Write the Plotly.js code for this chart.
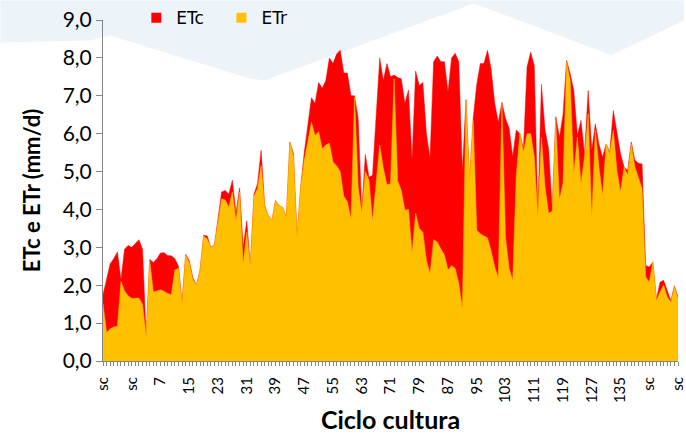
<!DOCTYPE html>
<html>
<head>
<meta charset="utf-8">
<script src="https://cdn.plot.ly/plotly-3.0.1.min.js"></script>
<style>
  html, body { margin: 0; padding: 0; background: #ffffff; }
  #chart { width: 686px; height: 434px; }
</style>
</head>
<body>
<div id="chart"></div>
<script>
// Tick labels shown every 8th point of the crop cycle axis (sc = sem cultura)
const tickLabels = ["sc","sc","7","15","23","31","39","47","55","63","71","79","87","95","103","111","119","127","135","sc","sc"];

// ETc (mm/d), one value per day
const etc = [
  1.75, 2.2, 2.57, 2.7, 2.88, 2.15, 2.95, 3.05, 3.0, 3.1, 3.2, 2.95, 0.65,
  2.68, 2.6, 2.7, 2.85, 2.86, 2.78, 2.78, 2.7, 2.5, 1.55, 2.82, 2.65, 2.2, 2.0, 2.4,
  3.32, 3.3, 3.0, 3.06, 3.7, 4.46, 4.5, 4.4, 4.77, 3.9, 4.57, 3.0, 3.7, 2.52, 4.4, 4.68, 5.56,
  4.1, 3.84, 3.71, 4.24, 4.1, 4.05, 3.8, 5.78, 5.47, 3.27, 4.6,
  5.5, 6.2, 6.95, 6.8, 7.35, 7.2, 7.4, 8.0, 7.85, 8.1, 8.2, 7.6, 7.6, 7.0, 7.0, 6.4, 3.95,
  5.45, 4.85, 4.9, 6.35, 8.0, 7.4, 7.85, 7.5, 7.55, 7.48, 7.45, 6.8, 7.15, 5.3, 7.65, 7.27, 7.35, 6.0,
  5.35, 7.9, 8.05, 7.9, 7.9, 7.1, 8.0, 8.12, 7.9, 5.0, 6.9, 4.77, 6.4, 7.3, 7.85, 7.85, 8.2, 7.7, 6.8, 6.3,
  6.83, 6.4, 6.15, 5.4, 6.1, 6.0, 5.6, 7.76, 8.15, 7.8, 3.9, 7.3, 6.1, 5.6, 4.0, 6.45, 5.9, 6.5,
  7.93, 7.58, 7.14, 5.95, 6.35, 5.47, 7.14, 5.56, 6.26, 5.73, 5.38, 5.73, 5.51, 6.61, 6.0, 5.47, 5.12, 5.03, 5.78, 5.3, 5.22, 5.2,
  2.52, 2.48, 2.61, 1.63, 2.08, 2.13, 1.86, 1.6, 1.98, 1.69
];

// ETr (mm/d), one value per day
const etr = [
  1.52, 0.75, 0.85, 0.9, 0.92, 2.1, 1.85, 1.72, 1.65, 1.65, 1.66, 1.5, 0.63,
  2.65, 1.82, 1.85, 1.88, 1.84, 1.78, 1.75, 2.4, 2.45, 1.52, 2.8, 2.6, 2.15, 2.0, 2.38,
  3.3, 3.22, 3.0, 3.05, 3.68, 4.28, 4.25, 4.06, 4.46, 3.7, 4.46, 2.55, 3.4, 2.5, 4.35, 4.55, 5.16,
  4.08, 3.84, 3.71, 4.24, 4.1, 4.05, 3.8, 5.78, 5.4, 3.27, 4.6,
  5.3, 5.8, 6.3, 5.95, 6.05, 5.6, 5.7, 5.75, 5.25, 5.15, 5.0, 4.35, 4.2, 3.75, 6.95, 4.6, 3.9,
  5.0, 4.77, 3.7, 4.7, 5.7, 5.1, 4.65, 4.68, 7.45, 4.75, 4.5, 3.98, 4.0, 2.85, 3.9, 3.5, 3.4, 2.65,
  2.3, 3.2, 3.14, 2.96, 2.8, 2.4, 2.52, 2.44, 2.05, 1.38, 6.85, 4.75, 6.35, 3.45, 3.36, 3.3, 3.25, 2.9, 2.48, 2.2,
  6.79, 3.27, 2.45, 2.13, 4.9, 6.0, 5.51, 6.0, 6.0, 5.4, 3.8, 5.9, 4.6, 3.9, 3.95, 6.35, 4.25, 4.7,
  7.89, 7.4, 4.94, 5.91, 4.68, 5.4, 6.53, 3.76, 6.09, 5.12, 4.37, 5.73, 5.47, 6.09, 5.03, 4.46, 5.12, 4.9, 5.73, 5.12, 4.85, 4.55,
  2.22, 2.08, 2.61, 1.6, 1.82, 2.0, 1.69, 1.56, 1.95, 1.64
];

const labelStep = 8;
const xIdx = etc.map((_, i) => i);
const tickVals = tickLabels.map((_, k) => k * labelStep);

const RED = '#FF0000';
const GOLD = '#FFC000';

const traces = [
  { x: xIdx, y: etc, name: 'ETc', type: 'scatter', mode: 'lines', fill: 'tozeroy',
    fillcolor: RED, line: { color: RED, width: 0.5 }, showlegend: false, hoverinfo: 'skip' },
  { x: xIdx, y: etr, name: 'ETr', type: 'scatter', mode: 'lines', fill: 'tozeroy',
    fillcolor: GOLD, line: { color: GOLD, width: 0.5 }, showlegend: false, hoverinfo: 'skip' },
  // legend entries (square swatches)
  { x: [null], y: [null], name: 'ETc', type: 'scatter', mode: 'markers',
    marker: { symbol: 'square', size: 10, color: RED }, showlegend: true, legend: 'legend' },
  { x: [null], y: [null], name: 'ETr', type: 'scatter', mode: 'markers',
    marker: { symbol: 'square', size: 10, color: GOLD }, showlegend: true, legend: 'legend2' }
];

// light slide-background band at the top (paper coordinates)
const bgPath = 'M -0.1785 1.0575 L 1.0104 1.0575 L 1.0104 0.9988 L 0.8839 0.8963 L 0.6447 1.0487 ' +
               'L 0.4229 0.9109 L 0.2808 0.8229 L 0.2548 0.8288 L 0.0121 0.9548 L -0.0225 0.9402 L -0.1785 0.9343 Z';

const legendFont = { family: '"DejaVu Sans", sans-serif', size: 17, color: '#000000' };

const layout = {
  width: 686, height: 434,
  margin: { l: 103, r: 8, t: 20, b: 73, pad: 0, autoexpand: false },
  paper_bgcolor: '#ffffff',
  plot_bgcolor: 'rgba(0,0,0,0)',
  separators: ',.',
  font: { family: 'Lato, "Open Sans", sans-serif', color: '#000000', size: 15 },
  showlegend: true,
  legend: {
    orientation: 'h', x: 0.058, xanchor: 'left', y: 1.005, yanchor: 'middle',
    bgcolor: 'rgba(0,0,0,0)', itemwidth: 30, font: legendFont
  },
  legend2: {
    orientation: 'h', x: 0.206, xanchor: 'left', y: 1.005, yanchor: 'middle',
    bgcolor: 'rgba(0,0,0,0)', itemwidth: 30, font: legendFont
  },
  xaxis: {
    range: [0, 160], fixedrange: true,
    tickmode: 'array', tickvals: tickVals, ticktext: tickLabels,
    tickangle: -90, ticks: 'outside', ticklen: 4, tickcolor: '#868686', tickwidth: 1,
    ticklabelstandoff: 5, ticklabeloverflow: 'allow',
    minor: { dtick: 1, ticks: 'outside', ticklen: 4, tickcolor: '#868686', tickwidth: 1, showgrid: false },
    showline: true, linecolor: '#868686', linewidth: 1, showgrid: false, zeroline: false,
    tickfont: { size: 15, family: 'Lato, sans-serif' },
    title: { text: 'Ciclo cultura', font: { size: 25, family: 'Lato, sans-serif', weight: 'bold' }, standoff: 10 }
  },
  yaxis: {
    range: [0, 9], dtick: 1, tick0: 0, tickformat: '.1f', fixedrange: true,
    ticks: 'outside', ticklen: 6, tickcolor: '#868686', tickwidth: 1,
    showline: true, linecolor: '#868686', linewidth: 1, showgrid: false, zeroline: false,
    tickfont: { size: 21, family: 'Lato, sans-serif' },
    title: { text: 'ETc e ETr (mm/d)', font: { size: 22, family: 'Lato, sans-serif', weight: 'bold' }, standoff: 15 }
  },
  shapes: [
    { type: 'path', xref: 'paper', yref: 'paper', path: bgPath, fillcolor: '#EDF4F9',
      line: { width: 0 }, layer: 'below' }
  ]
};

Plotly.newPlot('chart', traces, layout, { displayModeBar: false, staticPlot: true });
</script>
</body>
</html>
